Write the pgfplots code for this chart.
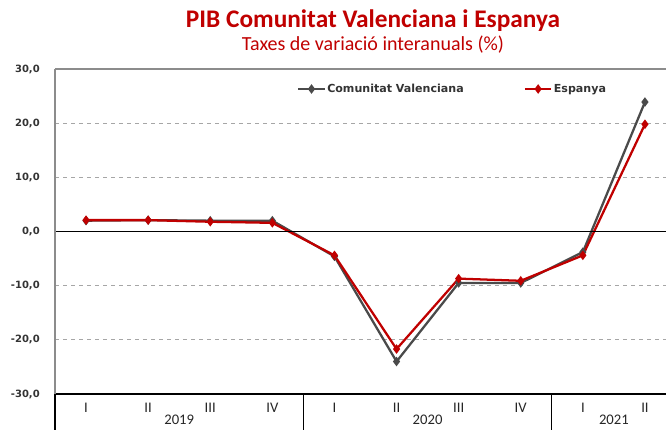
\documentclass[border=0pt]{standalone}
\usepackage{fontspec}
\setmainfont{Carlito}
\newfontfamily\verd{DejaVu Sans}
\usepackage{pgfplots}
\pgfplotsset{compat=1.18}
\definecolor{cvGray}{HTML}{4A4A4A}
\definecolor{espRed}{HTML}{C00000}
\definecolor{gridGray}{HTML}{A6A6A6}
\definecolor{spineGray}{HTML}{8C8C8C}

% PIB quarterly year-on-year rates
\pgfplotstableread{
idx cv esp
0 2.0 2.1
1 2.1 2.1
2 2.0 1.8
3 2.0 1.6
4 -4.6 -4.4
5 -24.0 -21.7
6 -9.5 -8.7
7 -9.5 -9.1
8 -3.8 -4.4
9 23.9 19.8
}\pibdata

\begin{document}
\begin{tikzpicture}
\begin{axis}[
    scale only axis,
    width=465.75pt, height=243.75pt,
    xmin=-0.5, xmax=9.5,
    ymin=-30, ymax=30,
    ytick={-30,-20,...,30},
    xtick={0,...,9},
    xticklabels={I,II,III,IV,I,II,III,IV,I,II},
    axis line style={draw=none},
    major tick length=0pt,
    ymajorgrids,
    grid style={gridGray, dashed, line width=0.6pt},
    /pgf/number format/.cd, fixed, fixed zerofill, precision=1, use comma, assume math mode=true,
    /pgfplots/.cd,
    yticklabel style={font=\verd\bfseries\fontsize{7.5}{9}\selectfont, text=black!80, anchor=east, inner sep=0pt, xshift=-11.25pt},
    xticklabel style={font=\fontsize{11}{13}\selectfont, text=black!85, anchor=center, inner sep=0pt, yshift=-10pt},
    legend columns=2,
    legend style={at={(0.383,0.9385)}, anchor=west, draw=none, fill=none,
        font=\verd\bfseries\fontsize{8.3}{10}\selectfont, text=black!80,
        nodes={inner sep=1pt},
        /tikz/every even column/.append style={column sep=44pt}},
    legend image code/.code={\draw[mark repeat=2, mark phase=2, #1] plot coordinates {(0cm,0cm) (0.35cm,0cm) (0.7cm,0cm)};},
    clip=false,
]
\addplot[cvGray, line width=1.7pt, mark=diamond*, mark size=2.2pt, mark options={solid}] table[x=idx, y=cv] {\pibdata};
\addplot[espRed, line width=1.7pt, mark=diamond*, mark size=2.2pt, mark options={solid}] table[x=idx, y=esp] {\pibdata};
\legend{Comunitat Valenciana, Espanya}

% spines and zero line
\draw[black, line width=0.9pt] (axis cs:-0.5,0) -- (axis cs:9.5,0);
\draw[black, line width=0.8pt] (rel axis cs:0,0) -- (rel axis cs:1,0);
\draw[spineGray, line width=1.6pt] (rel axis cs:0,0) -- (rel axis cs:0,1);
\draw[spineGray, line width=1.2pt] (rel axis cs:0,1) -- (rel axis cs:1,1);
% year separators below the axis
\draw[black, line width=0.8pt] (axis cs:-0.5,-30) -- ([yshift=-30pt]axis cs:-0.5,-30);
\draw[black, line width=0.8pt] (axis cs:3.5,-30) -- ([yshift=-30pt]axis cs:3.5,-30);
\draw[black, line width=0.8pt] (axis cs:7.5,-30) -- ([yshift=-30pt]axis cs:7.5,-30);
\node[font=\fontsize{11}{13}\selectfont, text=black!85] at ([yshift=-19pt]axis cs:1.5,-30) {2019};
\node[font=\fontsize{11}{13}\selectfont, text=black!85] at ([yshift=-19pt]axis cs:5.5,-30) {2020};
\node[font=\fontsize{11}{13}\selectfont, text=black!85] at ([yshift=-19pt]axis cs:8.5,-30) {2021};

% titles
\node[font=\bfseries\fontsize{19}{22}\selectfont, text=espRed] at ([xshift=238.5pt, yshift=36pt]rel axis cs:0,1) {PIB Comunitat Valenciana i Espanya};
\node[font=\fontsize{15}{18}\selectfont, text=espRed] at ([xshift=238.5pt, yshift=18pt]rel axis cs:0,1) {Taxes de variació interanuals (\%)};

\coordinate (bbsw) at ([xshift=-41.25pt, yshift=-26.25pt]rel axis cs:0,0);
\coordinate (bbne) at ([xshift=458.25pt, yshift=51.75pt]rel axis cs:0,1);
\end{axis}
\pgfresetboundingbox
\path[use as bounding box] (bbsw) rectangle (bbne);
\end{tikzpicture}
\end{document}
